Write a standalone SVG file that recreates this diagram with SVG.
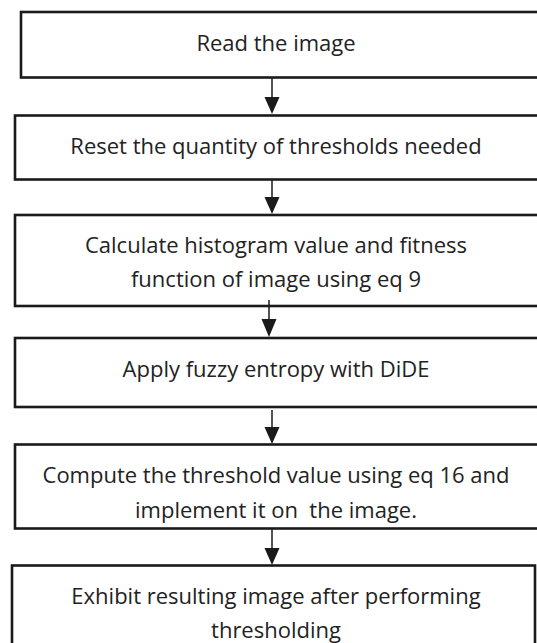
<svg xmlns="http://www.w3.org/2000/svg" width="537" height="643" viewBox="0 0 537 643">
<style>
.box{fill:#fff;stroke:#1a1a1a;stroke-width:2.6}
.t{font-family:"Open Sans","Liberation Sans",sans-serif;font-size:22px;fill:#222;text-anchor:middle}
.c{stroke:#1a1a1a;stroke-width:1.5;fill:none}
.h{fill:#1a1a1a}
</style>
<rect width="537" height="643" fill="#fff"/>
<g id="n1"><rect class="box" x="21" y="12" width="530" height="65.5"/><text class="t" x="276" y="51">Read the image</text></g>
<g id="n2"><rect class="box" x="15" y="115.5" width="536" height="64"/><text class="t" x="276" y="154">Reset the quantity of thresholds needed</text></g>
<g id="n3"><rect class="box" x="15" y="215" width="536" height="91"/><text class="t" x="276" y="253">Calculate histogram value and fitness</text><text class="t" x="276" y="287">function of image using eq 9</text></g>
<g id="n4"><rect class="box" x="15" y="338" width="536" height="69"/><text class="t" x="276" y="377">Apply fuzzy entropy with DiDE</text></g>
<g id="n5"><rect class="box" x="15" y="444.5" width="536" height="84"/><text class="t" x="276" y="483">Compute the threshold value using eq 16 and</text><text class="t" x="276" y="518" xml:space="preserve">implement it on  the image.</text></g>
<g id="n6"><rect class="box" x="12" y="565.5" width="523" height="90"/><text class="t" x="276" y="604">Exhibit resulting image after performing</text><text class="t" x="276" y="638">thresholding</text></g>
<g id="connectors">
<line class="c" x1="272" y1="78" x2="272" y2="98"/><path class="h" d="M264.5,97 L279.5,97 L272,114 Z"/>
<line class="c" x1="272" y1="180" x2="272" y2="198"/><path class="h" d="M264.5,197 L279.5,197 L272,214 Z"/>
<line class="c" x1="269" y1="300" x2="269" y2="320"/><path class="h" d="M261.5,319 L276.5,319 L269,337 Z"/>
<line class="c" x1="272" y1="410" x2="272" y2="428"/><path class="h" d="M264.5,427 L279.5,427 L272,444 Z"/>
<line class="c" x1="272" y1="529" x2="272" y2="549"/><path class="h" d="M264.5,548 L279.5,548 L272,565 Z"/>
</g>
</svg>
